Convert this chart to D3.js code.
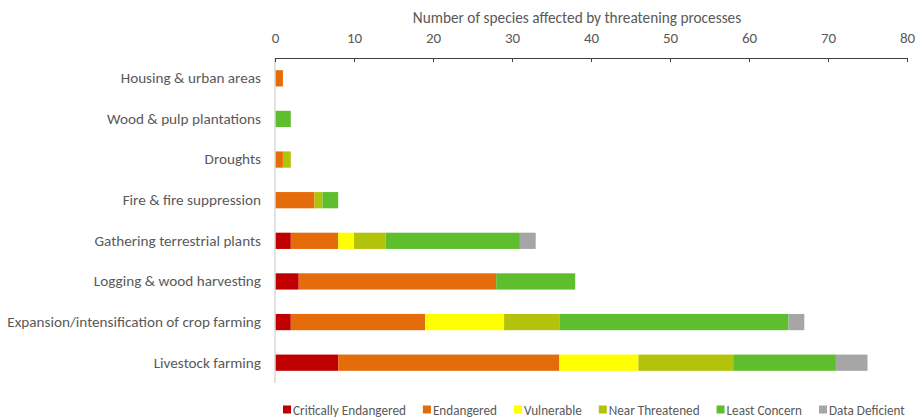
<!DOCTYPE html>
<html><head><meta charset="utf-8">
<script src="https://cdn.jsdelivr.net/npm/d3@7"></script>
<style>
body{margin:0;background:#fff;}
text{font-family:Carlito,Lato,"Open Sans",sans-serif;fill:#595959;}
</style></head>
<body><svg id="c" width="921" height="420"></svg>
<script>
const categories = ["Housing & urban areas","Wood & pulp plantations","Droughts","Fire & fire suppression","Gathering terrestrial plants","Logging & wood harvesting","Expansion/intensification of crop farming","Livestock farming"];
const seriesNames = ["Critically Endangered","Endangered","Vulnerable","Near Threatened","Least Concern","Data Deficient"];
const criticallyEndangered = [0,0,0,0,2,3,2,8];
const endangered = [1,0,1,5,6,25,17,28];
const vulnerable = [0,0,0,0,2,0,10,10];
const nearThreatened = [0,0,1,1,4,0,7,12];
const leastConcern = [0,2,0,2,17,10,29,13];
const dataDeficient = [0,0,0,0,2,0,2,4];
const tickValues = [0,10,20,30,40,50,60,70,80];
const colors = ["#c00000","#e46c0a","#ffff00","#b3c30b","#5fbe2e","#a6a6a6"];

const seriesValues = [criticallyEndangered,endangered,vulnerable,nearThreatened,leastConcern,dataDeficient];
const rows = categories.map((c,i)=>{const o={cat:c}; seriesNames.forEach((s,j)=>o[s]=seriesValues[j][i]); return o;});
const stack = d3.stack().keys(seriesNames)(rows);

const svg = d3.select("#c");
const mLeft = 275, mRight = 907, mTop = 58, mBottom = 383;
const x = d3.scaleLinear().domain([0,80]).range([mLeft,mRight]);
const y = d3.scaleBand().domain(categories).range([mTop,mBottom]).paddingInner(0.6).paddingOuter(0.3);

// bars
svg.append("g").selectAll("g").data(stack).join("g").attr("fill",(d,i)=>colors[i])
  .selectAll("rect").data(d=>d).join("rect")
  .attr("x",d=>x(d[0])).attr("width",d=>Math.max(0,x(d[1])-x(d[0])))
  .attr("y",d=>y(d.data.cat)).attr("height",y.bandwidth());

// left vertical axis line
svg.append("line").attr("x1",mLeft).attr("x2",mLeft).attr("y1",mTop).attr("y2",mBottom)
  .attr("stroke","#d9d9d9").attr("stroke-width",1.5);

// top axis
const ax = svg.append("g").attr("transform",`translate(0,${mTop})`)
  .call(d3.axisTop(x).tickValues(tickValues).tickSize(0).tickPadding(15));
ax.select(".domain").attr("stroke","#404040").attr("stroke-width",1.2);
ax.selectAll(".tick line").remove();
ax.selectAll(".tick").append("line").attr("y1",0).attr("y2",4).attr("stroke","#404040");
ax.selectAll("text").style("font-size","15px").attr("fill","#595959");

svg.append("text").attr("x",577).attr("y",23).attr("text-anchor","middle")
  .style("font-size","15.3px").text("Number of species affected by threatening processes");

// category labels
const ay = svg.append("g").attr("transform",`translate(${mLeft},0)`)
  .call(d3.axisLeft(y).tickSize(0).tickPadding(14));
ay.select(".domain").remove();
ay.selectAll("text").style("font-size","15.2px").attr("fill","#595959");

// legend
const lg = svg.append("g").attr("transform","translate(283,410)");
let lx = 0;
seriesNames.forEach((s,i)=>{
  const g = lg.append("g").attr("transform",`translate(${lx},0)`);
  g.append("rect").attr("x",0).attr("y",-4.5).attr("width",8).attr("height",8).attr("fill",colors[i]);
  const t = g.append("text").attr("x",10).attr("y",4.8).style("font-size","13.2px").text(s);
  lx += 10 + t.node().getComputedTextLength() + 17;
});
</script></body></html>
